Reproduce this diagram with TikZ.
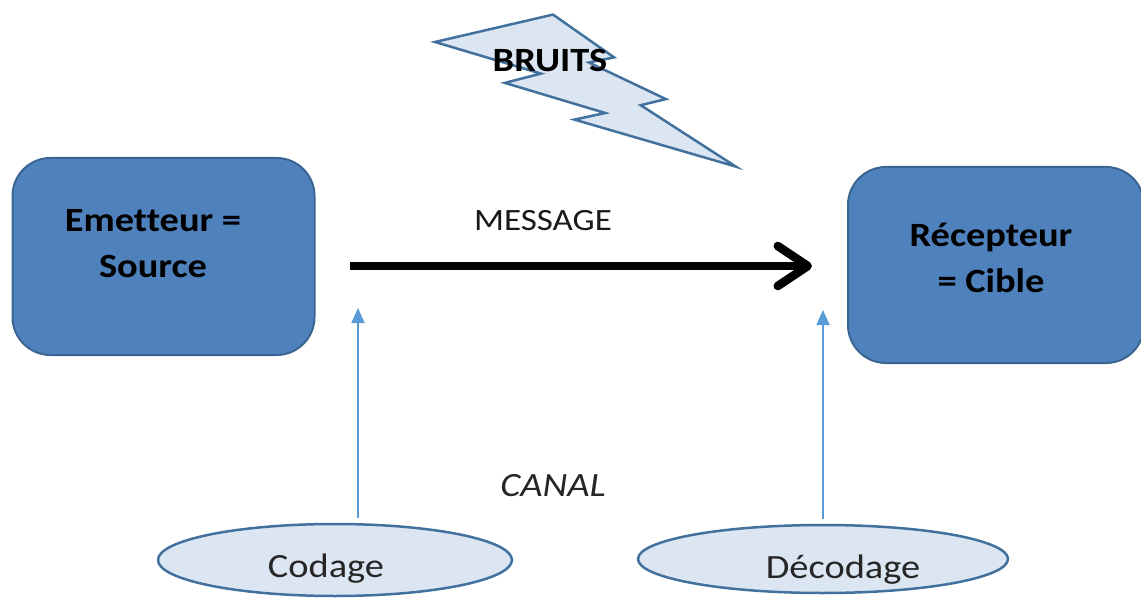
\documentclass[tikz,border=0pt]{standalone}
\usepackage{fontspec}
\setmainfont{Carlito}[Ligatures=NoCommon]
\usepackage{graphicx}
\usetikzlibrary{shapes.geometric,arrows.meta}
\definecolor{boxfill}{HTML}{4F81BD}
\definecolor{boxline}{HTML}{3A6593}
\definecolor{lightfill}{HTML}{DCE6F2}
\definecolor{lightline}{HTML}{41719C}
\definecolor{canalblue}{HTML}{5B9BD5}
\newcommand\sx[1]{\scalebox{1.13}[1]{#1}}
\tikzset{
  bigbox/.style={draw=boxline, line width=2pt, fill=boxfill, rounded corners=38pt, inner sep=0pt},
  oval/.style={draw=lightline, line width=2.5pt, fill=lightfill, ellipse, inner sep=0pt},
  boxtext/.style={font=\fontsize{34}{46}\selectfont\bfseries, align=center, text=black, inner sep=0pt},
  plaintext/.style={font=\fontsize{34}{40}\selectfont, text=black!85, inner sep=0pt},
  canalarrow/.style={draw=canalblue, line width=1.8pt, -{Triangle[length=15pt,width=13pt]}},
  msgarrow/.style={draw=black, line width=8.5pt, -{Straight Barb[length=30pt,width=40pt,round]}}
}
\begin{document}
\begin{tikzpicture}[x=1pt,y=-1pt]
\useasboundingbox (0,0) rectangle (1141,599);
% lightning bolt (noise)
\filldraw[draw=lightline, line width=2.5pt, fill=lightfill, line join=miter]
  (553.0,14.6) -- (614.1,57.4) -- (588.9,62.5) -- (665.9,99.1) -- (640.7,105.2)
  -- (735.8,166.6) -- (574.4,119.6) -- (605.2,113.0) -- (504.9,82.9)
  -- (540.9,73.6) -- (435,42) -- cycle;
\node[boxtext, anchor=base] (bruits) at (550,72) {\sx{BRUITS}};
% boxes
\node[bigbox, minimum width=302pt, minimum height=197pt] (em) at (163.5,256.5) {};
\node[boxtext] (emt) at (153,244) {\sx{Emetteur =}\\\sx{Source}};
\node[bigbox, minimum width=296pt, minimum height=196pt] (rec) at (996,265) {};
\node[boxtext] (rect) at (991,258) {\sx{Récepteur}\\\sx{= Cible}};
% message arrow
\coordinate (ms) at (350,266);
\coordinate (me) at (812,266);
\draw[msgarrow] (ms) -- (me);
\node[plaintext, font=\fontsize{31}{36}\selectfont, anchor=base, text=black!90] (msg) at (543,230) {\sx{MESSAGE}};
% ellipses
\node[oval, minimum width=354pt, minimum height=72pt] (cod) at (335,560) {};
\node[plaintext, anchor=base] (codt) at (326,577) {\sx{Codage}};
\node[oval, minimum width=370pt, minimum height=68pt] (dec) at (823,559) {};
\node[plaintext, anchor=base] (dect) at (843,578) {\sx{Décodage}};
% canal arrows
\coordinate (c1s) at (358,518);
\coordinate (c1e) at (358,308);
\coordinate (c2s) at (823,519);
\coordinate (c2e) at (823,310);
\draw[canalarrow] (c1s) -- (c1e);
\draw[canalarrow] (c2s) -- (c2e);
\node[plaintext, font=\fontsize{34}{40}\selectfont\itshape, anchor=base] (canal) at (553,496) {\sx{CANAL}};
\end{tikzpicture}
\end{document}
